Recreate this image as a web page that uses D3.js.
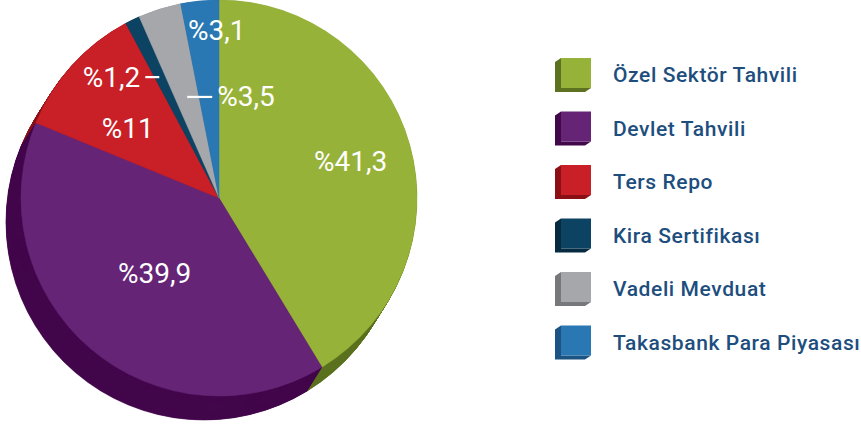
<!DOCTYPE html>
<html>
<head>
  <meta charset="utf-8">
  <title>Portföy Dağılımı</title>
  <script src="https://cdn.jsdelivr.net/npm/d3@7/dist/d3.min.js"></script>
  <style>
    body { margin: 0; background: #fff; }
    .slice-label { font-family: Roboto, sans-serif; font-size: 28px; fill: #fff; }
    .legend text { font-family: Roboto, sans-serif; font-weight: 500; font-size: 21px; letter-spacing: 0.6px; fill: #1d4e7e; }
  </style>
</head>
<body>
  <svg id="pie" width="861" height="428"></svg>

  <script>
    // data
    var categories = ['Özel Sektör Tahvili', 'Devlet Tahvili', 'Ters Repo', 'Kira Sertifikası', 'Vadeli Mevduat', 'Takasbank Para Piyasası'];
    var values = [41.3, 39.9, 11, 1.2, 3.5, 3.1];
    var valueLabels = ['%41,3', '%39,9', '%11', '%1,2', '%3,5', '%3,1'];

    // colours: top face / side
    var topColors = ['#97b239', '#652476', '#c91f26', '#0c4363', '#a6a7aa', '#2977b3'];
    var sideColors = ['#5d7220', '#43074c', '#8a1015', '#062a40', '#77787b', '#1b5482'];

    // label placement (radius as share of R, extra shift, leader side)
    var labelR = [0.69, 0.5, 0.58, 0.69, 0.535, 0.85];
    var labelDx = [0, 0, -6, 0, 0, 14];
    var labelDy = [0, 0, 8, 2, 0, 0];
    var leader = [0, 0, 0, -1, 1, 0];

    var svg = d3.select('#pie'),
      cx = 219, cy = 198, R = 198,
      depth = [-15, 24];  // extrusion of the cylinder

    var pie = d3.pie().value(d => d).sort(null);
    var arcs = pie(values);
    var path = d3.arc().innerRadius(0).outerRadius(R);

    // side: stacked darker copies, far to near
    var steps = 50;
    var side = svg.append('g');
    for (var s = steps; s >= 1; s--) {
      var t = s / steps;
      side.append('g')
        .attr('transform', 'translate(' + (cx + depth[0] * t) + ',' + (cy + depth[1] * t) + ')')
        .selectAll('path')
        .data(arcs)
        .enter()
        .append('path')
        .attr('d', path)
        .attr('fill', (d, i) => sideColors[i])
        .attr('stroke', (d, i) => sideColors[i])
        .attr('stroke-width', 0.6);
    }

    var g = svg.append('g').attr('transform', 'translate(' + cx + ',' + cy + ')');

    g.selectAll('.top')
      .data(arcs)
      .enter()
      .append('path')
      .attr('class', 'top')
      .attr('d', path)
      .attr('fill', (d, i) => topColors[i])
      .attr('stroke', (d, i) => topColors[i])
      .attr('stroke-width', 0.5);

    // labels
    arcs.forEach(function (d, i) {
      var lr = d3.arc().innerRadius(R * labelR[i]).outerRadius(R * labelR[i]);
      var p = lr.centroid(d);
      var x = p[0] + labelDx[i], y = p[1] + labelDy[i];
      if (leader[i] === 0) {
        g.append('text')
          .attr('class', 'slice-label')
          .attr('x', x).attr('y', y)
          .attr('text-anchor', 'middle')
          .attr('dominant-baseline', 'central')
          .text(valueLabels[i]);
      } else {
        var x2 = x + leader[i] * (leader[i] < 0 ? 14 : 25);
        g.append('line')
          .attr('x1', x).attr('x2', x2)
          .attr('y1', y).attr('y2', y)
          .attr('stroke', '#fff').attr('stroke-width', 2.2);
        g.append('text')
          .attr('class', 'slice-label')
          .attr('x', x2 + leader[i] * 5).attr('y', y)
          .attr('text-anchor', leader[i] < 0 ? 'end' : 'start')
          .attr('dominant-baseline', 'central')
          .text(valueLabels[i]);
      }
    });

    // legend
    var legend = svg.append('g').attr('class', 'legend');
    var y = d3.scalePoint().domain(categories).range([75, 342.5]);
    var box = 30, bev = [-6, 4];

    var item = legend.selectAll('g')
      .data(categories)
      .enter()
      .append('g')
      .attr('transform', d => 'translate(561,' + (y(d) - 17) + ')');

    item.append('path')
      .attr('d', 'M0,0 L' + bev[0] + ',' + bev[1] + ' L' + bev[0] + ',' + (box + bev[1]) +
        ' L' + (box + bev[0]) + ',' + (box + bev[1]) + ' L' + box + ',' + box + ' L0,' + box + 'Z')
      .attr('fill', (d, i) => sideColors[i]);

    item.append('rect')
      .attr('width', box).attr('height', box)
      .attr('fill', (d, i) => topColors[i]);

    item.append('text')
      .attr('x', 52).attr('y', 17)
      .attr('dominant-baseline', 'central')
      .text(d => d);
  </script>
</body>
</html>
